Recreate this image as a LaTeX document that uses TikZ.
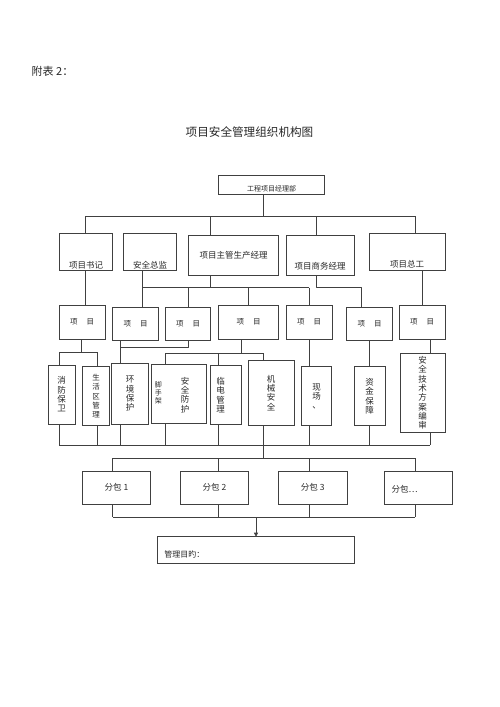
\documentclass[tikz,border=0pt]{standalone}
\usepackage{fontspec}
\newfontfamily\cjk{Noto Sans CJK SC}
\usetikzlibrary{arrows.meta}

\begin{document}
\begin{tikzpicture}[x=1pt,y=-1pt,
  box/.style={draw=drawColor,line width=0.6pt,inner sep=0pt,outer sep=0pt,align=center,text=textColor,font=\cjk\fontsize{8.5}{9.3}\selectfont},
  lbl/.style={inner sep=0pt,outer sep=0pt,align=center,text=textColor,font=\cjk\fontsize{8.5}{9.3}\selectfont},
  wire/.style={draw=drawColor,line width=0.6pt,line join=round}]
\definecolor{drawColor}{RGB}{64,64,64}
\definecolor{textColor}{RGB}{40,40,40}
\path[use as bounding box,fill=white] (0,0) rectangle (500,707);

% headings
\node[lbl,anchor=west,font=\cjk\fontsize{11}{13}\selectfont] (fubiao) at (31.7,71) {附表 2：};
\node[lbl,font=\cjk\fontsize{11.6}{14}\selectfont] (title) at (249.5,131.7) {项目安全管理组织机构图};

% top box
\node[box,minimum width=106pt,minimum height=19.3pt] (gcxm) at (271.3,184.7) {};
\node[lbl,font=\cjk\fontsize{7}{8}\selectfont] (gcxm-t) at (271.7,189) {工程项目经理部};

% second row
\node[box,minimum width=53.4pt,minimum height=36.7pt] (shuji) at (86,251.7) {};
\node[lbl] (shuji-t) at (86,265) {项目书记};
\node[box,minimum width=53.4pt,minimum height=36.7pt] (anquan) at (150,251.7) {};
\node[lbl] (anquan-t) at (150,265.5) {安全总监};
\node[box,minimum width=90.4pt,minimum height=40pt] (zhuguan) at (233.5,255) {项目主管生产经理};
\node[box,minimum width=68.3pt,minimum height=40pt] (shangwu) at (320.2,255) {};
\node[lbl] (shangwu-t) at (320.2,266.7) {项目商务经理};
\node[box,minimum width=75.7pt,minimum height=36.7pt] (zonggong) at (407.2,251.7) {};
\node[lbl] (zonggong-t) at (407.2,264) {项目总工};

% third row
\foreach \n/\cx/\cy/\w in {1/82.2/322.3/45.7, 2/135.5/324/45.6, 3/188/324/45.4, 4/248.5/322.3/60.4, 5/309/322.3/46, 6/369.5/324/45.6, 7/422.2/322.3/45.7}
  \node[box,minimum width=\w pt,minimum height=33.4pt,font=\cjk\fontsize{7.5}{9}\selectfont] (xm\n) at (\cx,\cy) {项\hspace{9pt}目};

% fourth row
\node[box,minimum width=26.7pt,minimum height=59pt] (xf) at (61.7,394.5) {消\\防\\保\\卫};
\node[box,minimum width=27.4pt,minimum height=59pt,font=\cjk\fontsize{7.5}{9.3}\selectfont] (shq) at (96,396.2) {生\\活\\区\\管\\理};
\node[box,minimum width=37pt,minimum height=60.7pt] (hj) at (130.2,393.7) {环\\境\\保\\护};
\node[box,minimum width=55.7pt,minimum height=59.3pt] (fh) at (178.8,393.7) {};
\node[lbl,font=\cjk\fontsize{7}{8}\selectfont] (fh-a) at (158.3,393.3) {脚\\手\\架};
\node[lbl] (fh-b) at (185,395) {安\\全\\防\\护};
\node[box,minimum width=30.3pt,minimum height=59pt] (ld) at (225.8,395.2) {};
\node[lbl] (ld-t) at (220.5,395) {临\\电\\管\\理};
\node[box,minimum width=45.7pt,minimum height=65.7pt] (jx) at (271.2,392.8) {机\\械\\安\\全};
\node[box,minimum width=30pt,minimum height=59pt] (xc) at (316.7,396.2) {现\\场\\、};
\node[box,minimum width=30.7pt,minimum height=59pt] (zj) at (369.7,396.2) {资\\金\\保\\障};
\node[box,minimum width=45pt,minimum height=79pt] (js) at (422.5,392.8) {安\\全\\技\\术\\方\\案\\编\\审};

% subcontractors
\foreach \n/\cx/\t in {1/116.5/分包 1, 2/214.5/分包 2, 3/312.8/分包 3}
  \node[box,minimum width=68.4pt,minimum height=33pt] (fb\n) at (\cx,487.5) {\t};
\node[box,minimum width=68.4pt,minimum height=33pt] (fb4) at (418.5,487.5) {};
\node[lbl,anchor=west] (fb4-t) at (391.7,489) {分包…};

% aim
\node[box,minimum width=196.6pt,minimum height=26.6pt] (mudi) at (256,550) {};
\node[lbl,anchor=west,font=\cjk\fontsize{8}{9}\selectfont] (mudi-t) at (164.3,554) {管理目旳：};

% top box to second row
\coordinate (b1) at (263.3,216);
\coordinate (b1L) at (85.7,216);
\coordinate (b1z) at (210.7,216);
\coordinate (b1s) at (316,216);
\coordinate (b1R) at (415,216);
\draw[wire] (gcxm.south -| b1) -- (b1);
\draw[wire] (b1L) -- (b1R);
\draw[wire] (b1L) -- (b1L |- shuji.north);
\draw[wire] (b1z) -- (b1z |- zhuguan.north);
\draw[wire] (b1s) -- (b1s |- shangwu.north);
\draw[wire] (b1R) -- (b1R |- zonggong.north);

% second row to third row
\coordinate (b2L) at (142.7,287.7);
\coordinate (b2z) at (210.7,287.7);
\coordinate (b2R) at (309.3,287.7);
\coordinate (b2s) at (316.7,287.7);
\coordinate (b2x) at (361.7,287.7);
\draw[wire] (shuji.south -| b1L) -- (b1L |- xm1.north);
\draw[wire] (anquan.south -| b2L) -- (b2L |- xm2.north);
\draw[wire] (b2L) -- (b2R);
\draw[wire] (zhuguan.south -| b2z) -- (b2z);
\draw[wire] (xm3.north |- b2L) -- (xm3.north);
\draw[wire] (xm4.north |- b2L) -- (xm4.north);
\draw[wire] (b2R) -- (b2R |- xm5.north);
\draw[wire] (shangwu.south -| b2s) -- (b2s) -- (b2x) -- (b2x |- xm6.north);
\draw[wire] (zonggong.south -| xm7.north) -- (xm7.north);

% third row to fourth row
\foreach \q/\x in {qa/59.3, qb/97.3, qc/120, qd/165.3, qe/218.3, qf/263.3, qg/309.3, qh/369.3, qi/430}
  \coordinate (\q) at (\x,445);
\coordinate (b3a) at (81.7,352.3);
\coordinate (b3b) at (188.3,347.3);
\coordinate (b3c) at (241,353.3);
\draw[wire] (xm1.south -| b3a) -- (b3a);
\draw[wire] (qa |- b3a) -- (qb |- b3a);
\draw[wire] (qa |- b3a) -- (qa |- xf.north);
\draw[wire] (qb |- b3a) -- (qb |- shq.north);
\draw[wire] (xm2.south -| qc) -- (qc |- hj.north);
\draw[wire] (xm3.south -| b3b) -- (b3b) -- (qc |- b3b);
\draw[wire] (xm4.south -| b3c) -- (b3c);
\draw[wire] (qd |- b3c) -- (qf |- b3c);
\draw[wire] (qd |- b3c) -- (qd |- fh.north);
\draw[wire] (qe |- b3c) -- (qe |- ld.north);
\draw[wire] (qf |- b3c) -- (qf |- jx.north);
\draw[wire] (xm5.south -| qg) -- (qg |- xc.north);
\draw[wire] (xm6.south -| qh) -- (qh |- zj.north);
\draw[wire] (xm7.south -| qi) -- (qi |- js.north);

% fourth row to subcontractors
\draw[wire] (qa) -- (qi);
\foreach \q/\b in {qa/xf, qb/shq, qc/hj, qd/fh, qe/ld, qf/jx, qg/xc, qh/zj, qi/js}
  \draw[wire] (\q |- \b.south) -- (\q);
\foreach \n/\x in {1/112.7, 2/218.3, 3/309.3, 4/415} {
  \coordinate (p\n) at (\x,458.3);
  \coordinate (r\n) at (\x,517.3);
}
\draw[wire] (qf) -- (qf |- p1);
\draw[wire] (p1) -- (p4);
\draw[wire] (r1) -- (r4);
\foreach \n in {1,...,4} {
  \draw[wire] (p\n) -- (p\n |- fb\n.north);
  \draw[wire] (r\n |- fb\n.south) -- (r\n);
}
\draw[wire,-{Triangle[length=4pt,width=4pt]}] (r1 -| mudi.north) -- (mudi.north);
\end{tikzpicture}
\end{document}
